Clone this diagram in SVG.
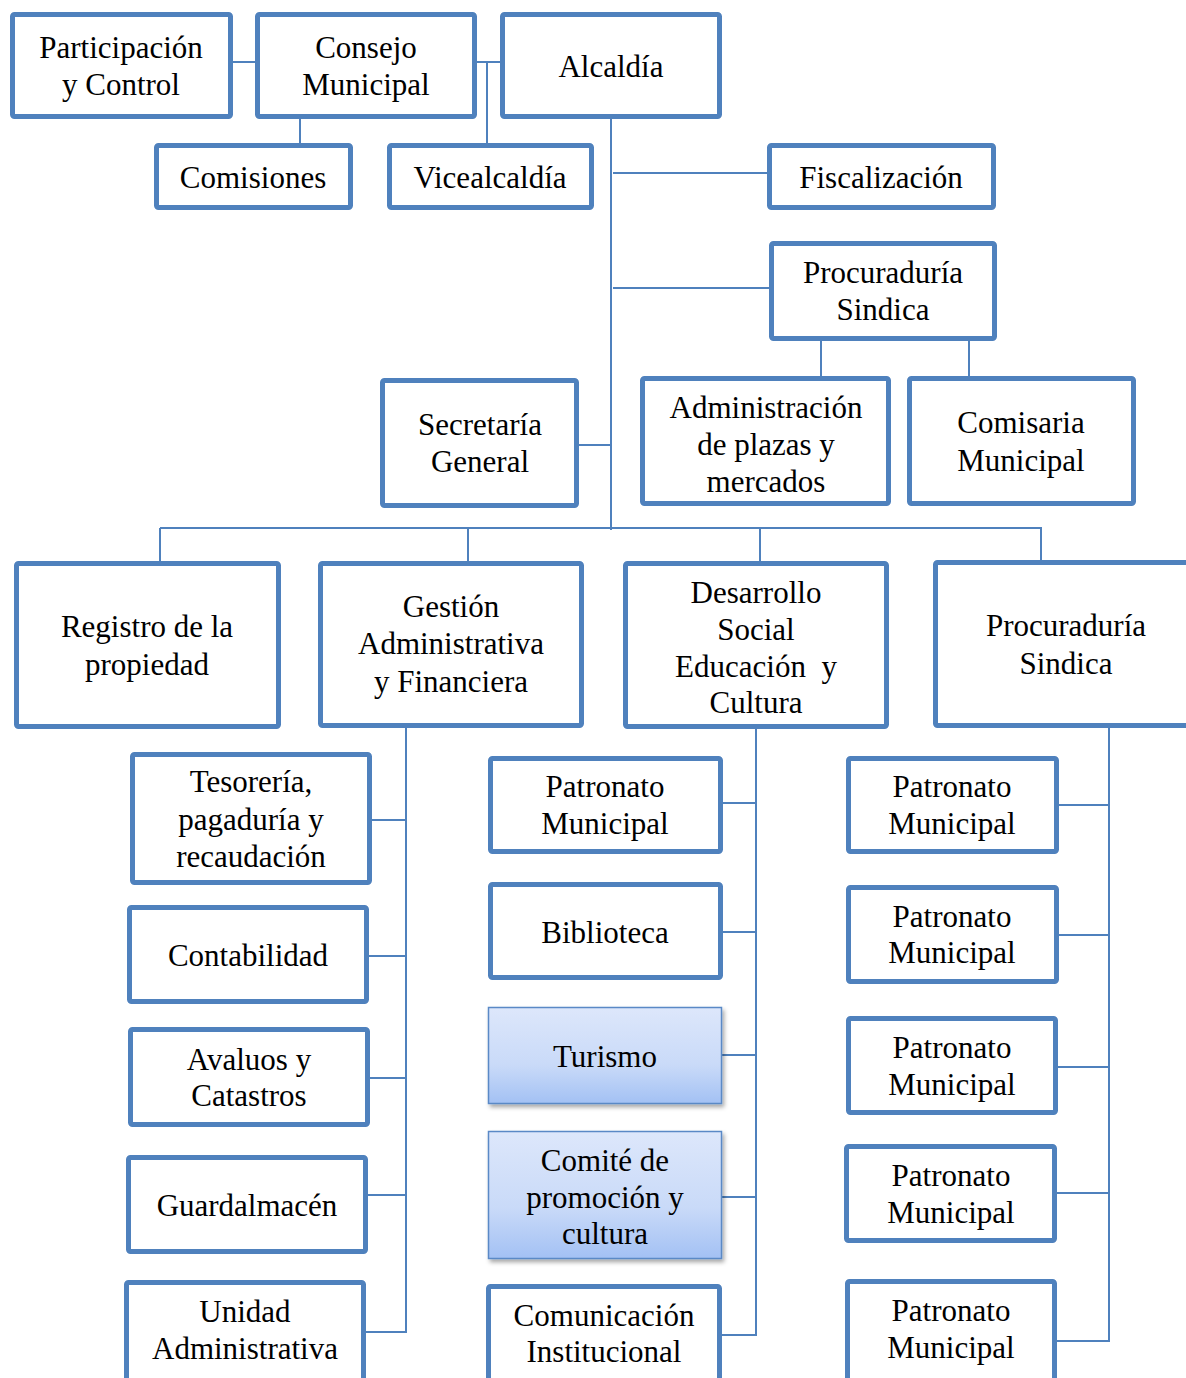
<svg xmlns="http://www.w3.org/2000/svg" width="1186" height="1378" viewBox="0 0 1186 1378">
  <style>
    .box { fill: #ffffff; stroke: #4F81BD; stroke-width: 5; }
    .soft { stroke: #5A89C6; stroke-width: 1.5; filter: url(#shadow); }
    .lbl { font-family: "Liberation Serif", "Times New Roman", serif; font-size: 31px; fill: #000000; text-anchor: middle; }
    .link { fill: none; stroke: #4F81BD; stroke-width: 2; }
  </style>
  <defs>
    <linearGradient id="blueFill" x1="0" y1="0" x2="0" y2="1">
      <stop offset="0" stop-color="#DDE7FB"/>
      <stop offset="0.6" stop-color="#C9DAF8"/>
      <stop offset="1" stop-color="#A3C1F4"/>
    </linearGradient>
    <filter id="shadow" x="-10%" y="-10%" width="130%" height="130%">
      <feDropShadow dx="2" dy="3" stdDeviation="2" flood-color="#000000" flood-opacity="0.35"/>
    </filter>
  </defs>
  <rect width="1186" height="1378" fill="#ffffff"/>

  <!-- connectors -->
  <g id="connectors">
    <line class="link" x1="233" y1="62" x2="255" y2="62"/>
    <line class="link" x1="477" y1="62" x2="500" y2="62"/>
    <line class="link" x1="487" y1="62" x2="487" y2="143"/>
    <line class="link" x1="300" y1="119" x2="300" y2="143"/>
    <line class="link" x1="611" y1="119" x2="611" y2="530"/>
    <line class="link" x1="613" y1="173" x2="767" y2="173"/>
    <line class="link" x1="613" y1="288" x2="769" y2="288"/>
    <line class="link" x1="821" y1="341" x2="821" y2="376"/>
    <line class="link" x1="969" y1="341" x2="969" y2="376"/>
    <line class="link" x1="579" y1="445" x2="611" y2="445"/>
    <line class="link" x1="160" y1="528" x2="1042" y2="528"/>
    <line class="link" x1="160" y1="528" x2="160" y2="561"/>
    <line class="link" x1="468" y1="528" x2="468" y2="561"/>
    <line class="link" x1="760" y1="528" x2="760" y2="561"/>
    <line class="link" x1="1041" y1="528" x2="1041" y2="560"/>
    <!-- Gestión Administrativa branch -->
    <polyline class="link" points="406,728 406,1332 366,1332"/>
    <line class="link" x1="372" y1="820" x2="406" y2="820"/>
    <line class="link" x1="369" y1="956" x2="406" y2="956"/>
    <line class="link" x1="370" y1="1078" x2="406" y2="1078"/>
    <line class="link" x1="368" y1="1195" x2="406" y2="1195"/>
    <!-- Desarrollo Social branch -->
    <polyline class="link" points="756,729 756,1335 722,1335"/>
    <line class="link" x1="723" y1="803" x2="756" y2="803"/>
    <line class="link" x1="723" y1="932" x2="756" y2="932"/>
    <line class="link" x1="722" y1="1055" x2="756" y2="1055"/>
    <line class="link" x1="722" y1="1197" x2="756" y2="1197"/>
    <!-- Procuraduría Sindica branch -->
    <polyline class="link" points="1109,728 1109,1341 1057,1341"/>
    <line class="link" x1="1059" y1="805" x2="1110" y2="805"/>
    <line class="link" x1="1059" y1="935" x2="1110" y2="935"/>
    <line class="link" x1="1058" y1="1067" x2="1110" y2="1067"/>
    <line class="link" x1="1057" y1="1193" x2="1109" y2="1193"/>
  </g>

  <g id="participacion">
    <rect class="box" x="12.5" y="14.5" width="218" height="102" rx="2"/>
    <text class="lbl" x="121" y="58">Participación</text>
    <text class="lbl" x="121" y="95">y Control</text>
  </g>
  <g id="consejo">
    <rect class="box" x="257.5" y="14.5" width="217" height="102" rx="2"/>
    <text class="lbl" x="366" y="58">Consejo</text>
    <text class="lbl" x="366" y="95">Municipal</text>
  </g>
  <g id="alcaldia">
    <rect class="box" x="502.5" y="14.5" width="217" height="102" rx="2"/>
    <text class="lbl" x="611" y="77">Alcaldía</text>
  </g>
  <g id="comisiones">
    <rect class="box" x="156.5" y="145.5" width="194" height="62" rx="2"/>
    <text class="lbl" x="253" y="188">Comisiones</text>
  </g>
  <g id="vicealcaldia">
    <rect class="box" x="389.5" y="145.5" width="202" height="62" rx="2"/>
    <text class="lbl" x="490" y="188">Vicealcaldía</text>
  </g>
  <g id="fiscalizacion">
    <rect class="box" x="769.5" y="145.5" width="224" height="62" rx="2"/>
    <text class="lbl" x="881" y="188">Fiscalización</text>
  </g>
  <g id="procuraduria-sindica">
    <rect class="box" x="771.5" y="243.5" width="223" height="95" rx="2"/>
    <text class="lbl" x="883" y="283">Procuraduría</text>
    <text class="lbl" x="883" y="320">Sindica</text>
  </g>
  <g id="secretaria">
    <rect class="box" x="382.5" y="380.5" width="194" height="125" rx="2"/>
    <text class="lbl" x="480" y="435">Secretaría</text>
    <text class="lbl" x="480" y="472">General</text>
  </g>
  <g id="plazas-mercados">
    <rect class="box" x="642.5" y="378.5" width="246" height="125" rx="2"/>
    <text class="lbl" x="766" y="418">Administración</text>
    <text class="lbl" x="766" y="455">de plazas y</text>
    <text class="lbl" x="766" y="492">mercados</text>
  </g>
  <g id="comisaria">
    <rect class="box" x="909.5" y="378.5" width="224" height="125" rx="2"/>
    <text class="lbl" x="1021" y="433">Comisaria</text>
    <text class="lbl" x="1021" y="471">Municipal</text>
  </g>

  <g id="registro">
    <rect class="box" x="16.5" y="563.5" width="262" height="163" rx="2"/>
    <text class="lbl" x="147" y="637">Registro de la</text>
    <text class="lbl" x="147" y="675">propiedad</text>
  </g>
  <g id="gestion">
    <rect class="box" x="320.5" y="563.5" width="261" height="162" rx="2"/>
    <text class="lbl" x="451" y="617">Gestión</text>
    <text class="lbl" x="451" y="654">Administrativa</text>
    <text class="lbl" x="451" y="692">y Financiera</text>
  </g>
  <g id="desarrollo">
    <rect class="box" x="625.5" y="563.5" width="261" height="163" rx="2"/>
    <text class="lbl" x="756" y="603">Desarrollo</text>
    <text class="lbl" x="756" y="640">Social</text>
    <text class="lbl" x="756" y="677" style="white-space:pre">Educación  y</text>
    <text class="lbl" x="756" y="713">Cultura</text>
  </g>
  <g id="procuraduria-sindica-2">
    <rect class="box" x="935.5" y="562.5" width="262" height="163" rx="2"/>
    <text class="lbl" x="1066" y="636">Procuraduría</text>
    <text class="lbl" x="1066" y="674">Sindica</text>
  </g>

  <g id="tesoreria">
    <rect class="box" x="132.5" y="754.5" width="237" height="128" rx="2"/>
    <text class="lbl" x="251" y="792">Tesorería,</text>
    <text class="lbl" x="251" y="830">pagaduría y</text>
    <text class="lbl" x="251" y="867">recaudación</text>
  </g>
  <g id="contabilidad">
    <rect class="box" x="129.5" y="907.5" width="237" height="94" rx="2"/>
    <text class="lbl" x="248" y="966">Contabilidad</text>
  </g>
  <g id="avaluos">
    <rect class="box" x="130.5" y="1029.5" width="237" height="95" rx="2"/>
    <text class="lbl" x="249" y="1070">Avaluos y</text>
    <text class="lbl" x="249" y="1106">Catastros</text>
  </g>
  <g id="guardalmacen">
    <rect class="box" x="128.5" y="1157.5" width="237" height="94" rx="2"/>
    <text class="lbl" x="247" y="1216">Guardalmacén</text>
  </g>
  <g id="unidad-administrativa">
    <rect class="box" x="126.5" y="1282.5" width="237" height="110" rx="2"/>
    <text class="lbl" x="245" y="1322">Unidad</text>
    <text class="lbl" x="245" y="1359">Administrativa</text>
  </g>

  <g id="patronato-dsec">
    <rect class="box" x="490.5" y="758.5" width="230" height="93" rx="2"/>
    <text class="lbl" x="605" y="797">Patronato</text>
    <text class="lbl" x="605" y="834">Municipal</text>
  </g>
  <g id="biblioteca">
    <rect class="box" x="490.5" y="884.5" width="230" height="93" rx="2"/>
    <text class="lbl" x="605" y="943">Biblioteca</text>
  </g>
  <g id="turismo">
    <rect class="soft" x="488.5" y="1007.5" width="233" height="96" fill="url(#blueFill)"/>
    <text class="lbl" x="605" y="1067">Turismo</text>
  </g>
  <g id="comite">
    <rect class="soft" x="488.5" y="1131.5" width="233" height="127" fill="url(#blueFill)"/>
    <text class="lbl" x="605" y="1171">Comité de</text>
    <text class="lbl" x="605" y="1208">promoción y</text>
    <text class="lbl" x="605" y="1244">cultura</text>
  </g>
  <g id="comunicacion">
    <rect class="box" x="488.5" y="1286.5" width="231" height="110" rx="2"/>
    <text class="lbl" x="604" y="1326">Comunicación</text>
    <text class="lbl" x="604" y="1362">Institucional</text>
  </g>

  <g id="patronato-1">
    <rect class="box" x="848.5" y="758.5" width="208" height="93" rx="2"/>
    <text class="lbl" x="952" y="797">Patronato</text>
    <text class="lbl" x="952" y="834">Municipal</text>
  </g>
  <g id="patronato-2">
    <rect class="box" x="848.5" y="887.5" width="208" height="94" rx="2"/>
    <text class="lbl" x="952" y="927">Patronato</text>
    <text class="lbl" x="952" y="963">Municipal</text>
  </g>
  <g id="patronato-3">
    <rect class="box" x="848.5" y="1018.5" width="207" height="94" rx="2"/>
    <text class="lbl" x="952" y="1058">Patronato</text>
    <text class="lbl" x="952" y="1095">Municipal</text>
  </g>
  <g id="patronato-4">
    <rect class="box" x="846.5" y="1146.5" width="208" height="94" rx="2"/>
    <text class="lbl" x="951" y="1186">Patronato</text>
    <text class="lbl" x="951" y="1223">Municipal</text>
  </g>
  <g id="patronato-5">
    <rect class="box" x="847.5" y="1281.5" width="207" height="110" rx="2"/>
    <text class="lbl" x="951" y="1321">Patronato</text>
    <text class="lbl" x="951" y="1358">Municipal</text>
  </g>
</svg>
